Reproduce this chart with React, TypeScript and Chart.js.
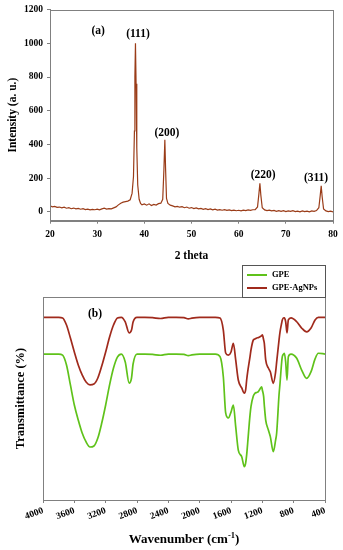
import React, { useEffect, useRef } from "react";
import { Chart, registerables } from "chart.js";

Chart.register(...registerables);

// ---------- (a) XRD data ----------
const xrdTheta = [
  20, 20.5, 21, 21.5, 22, 22.5, 23, 23.5, 24, 24.5, 25, 25.5, 26, 26.5, 27, 27.5, 28, 28.5, 29, 29.5,
  30, 30.5, 31, 31.5, 32, 32.5, 33, 33.5, 34, 34.5, 35, 35.5, 36, 36.5, 37, 37.4, 37.7, 37.9, 38.0, 38.12,
  38.25, 38.4, 38.6, 38.9, 39.2, 39.5, 40, 40.5, 41, 41.5, 42, 42.5, 43, 43.5, 43.9, 44.15, 44.35, 44.5, 44.7, 45,
  45.5, 46, 46.5, 47, 47.5, 48, 48.5, 49, 49.5, 50, 50.5, 51, 51.5, 52, 52.5, 53, 53.5, 54, 54.5, 55,
  55.5, 56, 56.5, 57, 57.5, 58, 58.5, 59, 59.5, 60, 60.5, 61, 61.5, 62, 62.5, 63, 63.5, 64, 64.3, 64.5,
  64.7, 65, 65.5, 66, 66.5, 67, 67.5, 68, 68.5, 69, 69.5, 70, 70.5, 71, 71.5, 72, 72.5, 73, 73.5, 74,
  74.5, 75, 75.5, 76, 76.5, 77, 77.3, 77.5, 77.7, 78, 78.5, 79, 79.5, 80,
];
const xrdIntensity = [
  36, 30, 33, 27, 29, 24, 28, 22, 25, 19, 23, 18, 21, 16, 19, 14, 17, 12, 15, 13,
  16, 12, 18, 22, 17, 20, 18, 24, 30, 42, 52, 58, 61, 64, 72, 110, 210, 480, 800, 1000,
  760, 380, 160, 75, 50, 42, 47, 40, 48, 38, 45, 41, 49, 52, 75, 250, 428, 260, 80, 50,
  40, 36, 30, 33, 28, 31, 25, 29, 22, 26, 20, 24, 18, 21, 15, 19, 14, 18, 12, 16,
  11, 14, 10, 13, 9, 12, 8, 11, 7, 10, 6, 11, 8, 12, 9, 13, 14, 30, 110, 170,
  100, 25, 12, 8, 11, 6, 9, 4, 8, 3, 7, 2, 6, 3, 7, 2, 5, 1, 6, 2,
  5, 1, 6, 3, 8, 25, 100, 155, 90, 18, 6, 2, 5, 0,
];
const xrdXTicks = [20, 30, 40, 50, 60, 70, 80];
const xrdYTicks = [0, 200, 400, 600, 800, 1000, 1200];
const xrdPeakLabels = ["(a)", "(111)", "(200)", "(220)", "(311)"];
const xrdPeakLabelTheta = [30.2, 38.65, 44.8, 65.2, 76.4];
const xrdPeakLabelIntensity = [1075, 1058, 468, 218, 200];

// ---------- (b) FTIR data ----------
const ftirWavenumber = [
  4000, 3800, 3750, 3700, 3650, 3600, 3550, 3500, 3450, 3400, 3350, 3300, 3250, 3200, 3150, 3100, 3050, 3000,
  2950, 2900, 2870, 2850, 2800, 2700, 2600, 2500, 2400, 2300, 2200, 2145, 2100, 2000, 1900, 1800, 1740, 1698,
  1668, 1634, 1600, 1570, 1540, 1507, 1463, 1430, 1413, 1400, 1387, 1357, 1345, 1315, 1294, 1272, 1251, 1230,
  1208, 1200, 1183, 1175, 1157, 1123, 1098, 1060, 1030, 1017, 987, 974, 953, 945, 927, 919, 902, 885,
  868, 834, 761, 698, 634, 578, 527, 485, 400,
];
const ftirGPE = [
  71.9, 71.9, 71.4, 66.5, 56.7, 46.8, 39.4, 33.0, 28.6, 26.1, 26.6, 30.5, 37.9, 46.8, 56.7, 65.0, 70.4, 71.9,
  68.0, 57.6, 60.1, 67.0, 71.9, 71.9, 71.7, 71.3, 71.9, 71.9, 71.7, 71.1, 71.5, 71.9, 71.9, 71.9, 70.6, 60.7,
  42.9, 40.4, 43.3, 46.8, 36.1, 24.6, 21.3, 16.4, 18.2, 22.2, 28.1, 41.9, 46.0, 51.2, 52.6, 53.0, 53.4, 54.7,
  55.8, 54.2, 50.9, 46.8, 39.4, 34.5, 31.2, 23.8, 29.6, 33.0, 51.7, 57.5, 68.0, 70.6, 71.9, 72.3, 68.0, 59.1,
  70.6, 71.9, 69.8, 64.0, 59.9, 63.2, 69.5, 72.3, 71.9,
];
const ftirGPEAgNPs = [
  90.0, 90.0, 89.7, 86.2, 79.8, 72.9, 66.5, 61.6, 58.1, 56.7, 57.1, 60.1, 66.0, 72.9, 80.3, 86.2, 89.7, 90.0,
  87.7, 82.3, 83.7, 87.7, 90.0, 90.0, 89.8, 89.4, 90.0, 90.0, 89.8, 89.2, 89.6, 90.0, 90.0, 90.0, 89.6, 83.7,
  72.4, 71.4, 72.9, 77.2, 69.0, 59.1, 55.2, 52.6, 54.2, 59.1, 63.1, 70.6, 73.9, 78.8, 79.3, 79.8, 80.0, 80.4,
  81.0, 81.3, 78.8, 77.3, 69.0, 65.0, 63.2, 57.5, 63.2, 68.0, 78.8, 82.8, 87.2, 88.7, 89.7, 89.7, 87.8, 82.3,
  88.7, 89.7, 87.8, 84.7, 82.8, 84.7, 88.7, 90.0, 90.0,
];
const ftirXTicks = [4000, 3600, 3200, 2800, 2400, 2000, 1600, 1200, 800, 400];
const ftirSeriesNames = ["GPE", "GPE-AgNPs"];
const ftirPanelLabel = "(b)";
const ftirPanelLabelX = 3336;
const ftirPanelLabelY = 91.6;

const SERIF = "'Liberation Serif', 'Times New Roman', serif";
const AXIS_GRAY = "#808080";
const XRD_COLOR = "#9a3c18";
const GPE_COLOR = "#5fc21a";
const AGNP_COLOR = "#a02a1c";

const plainTick = (v: any) => String(v);

const boxPlugin = {
  id: "boxPlugin",
  afterDraw(chart: any) {
    const { ctx, chartArea } = chart;
    ctx.save();
    ctx.strokeStyle = AXIS_GRAY;
    ctx.lineWidth = 1;
    ctx.strokeRect(
      Math.round(chartArea.left) + 0.5,
      Math.round(chartArea.top) + 0.5,
      Math.round(chartArea.right - chartArea.left),
      Math.round(chartArea.bottom - chartArea.top)
    );
    ctx.restore();
  },
};

function XrdChart() {
  const ref = useRef<HTMLCanvasElement>(null);
  useEffect(() => {
    const labelPlugin = {
      id: "xrdLabels",
      afterDatasetsDraw(chart: any) {
        const { ctx, scales } = chart;
        ctx.save();
        ctx.fillStyle = "#000";
        ctx.font = `bold 11.5px ${SERIF}`;
        ctx.textAlign = "center";
        ctx.textBaseline = "middle";
        xrdPeakLabels.forEach((t, i) => {
          ctx.fillText(
            t,
            scales.x.getPixelForValue(xrdPeakLabelTheta[i]),
            scales.y.getPixelForValue(xrdPeakLabelIntensity[i])
          );
        });
        ctx.restore();
      },
    };
    const chart = new Chart(ref.current!, {
      type: "line",
      data: {
        datasets: [
          {
            data: xrdTheta.map((t, i) => ({ x: t, y: xrdIntensity[i] })),
            borderColor: XRD_COLOR,
            borderWidth: 1.2,
            pointRadius: 0,
            tension: 0,
            fill: false,
          },
        ],
      },
      options: {
        responsive: false,
        animation: false,
        layout: { padding: { left: 0, top: 9.6, right: 10, bottom: 0 } },
        plugins: { legend: { display: false }, tooltip: { enabled: false } },
        scales: {
          x: {
            type: "linear",
            min: 20,
            max: 80,
            afterBuildTicks: (s: any) => {
              s.ticks = xrdXTicks.map((v) => ({ value: v }));
            },
            afterFit: (s: any) => {
              s.height = 42.3;
              s.paddingLeft = 0;
              s.paddingRight = 0;
            },
            ticks: {
              callback: plainTick,
              color: "#000",
              font: { family: SERIF, size: 9.5, weight: "bold" },
              padding: 5,
              maxRotation: 0,
              minRotation: 0,
              autoSkip: false,
            },
            grid: { display: true, drawOnChartArea: false, drawTicks: true, tickLength: 3, color: AXIS_GRAY },
            border: { display: true, color: AXIS_GRAY },
            title: {
              display: true,
              text: "2 theta",
              color: "#000",
              font: { family: SERIF, size: 11.5, weight: "bold" },
              padding: { top: 0, bottom: 0 },
            },
          },
          y: {
            type: "linear",
            min: -52,
            max: 1200,
            afterBuildTicks: (s: any) => {
              s.ticks = xrdYTicks.map((v) => ({ value: v }));
            },
            afterFit: (s: any) => {
              s.width = 50;
              s.paddingTop = 0;
              s.paddingBottom = 0;
            },
            ticks: {
              callback: plainTick,
              color: "#000",
              font: { family: SERIF, size: 9.5, weight: "bold" },
              padding: 4,
            },
            grid: { display: true, drawOnChartArea: false, drawTicks: true, tickLength: 3, color: AXIS_GRAY },
            border: { display: true, color: AXIS_GRAY },
            title: {
              display: true,
              text: "Intensity (a. u.)",
              color: "#000",
              font: { family: SERIF, size: 11.5, weight: "bold" },
              padding: { top: 6, bottom: 0 },
            },
          },
        },
      },
      plugins: [boxPlugin, labelPlugin],
    } as any);
    return () => chart.destroy();
  }, []);
  return (
    <canvas
      ref={ref}
      width={343}
      height={263}
      style={{ position: "absolute", left: 0, top: 0, width: 343, height: 263 }}
    />
  );
}

function FtirChart() {
  const ref = useRef<HTMLCanvasElement>(null);
  useEffect(() => {
    const extrasPlugin = {
      id: "ftirExtras",
      afterDraw(chart: any) {
        const { ctx, chartArea, scales } = chart;
        ctx.save();
        // panel label
        ctx.fillStyle = "#000";
        ctx.font = `bold 11.5px ${SERIF}`;
        ctx.textAlign = "center";
        ctx.textBaseline = "middle";
        ctx.fillText(
          ftirPanelLabel,
          scales.x.getPixelForValue(ftirPanelLabelX),
          scales.y.getPixelForValue(ftirPanelLabelY)
        );
        // x title with superscript
        const main = "Wavenumber (cm";
        const sup = "-1";
        const end = ")";
        const mainFont = `bold 13px ${SERIF}`;
        const supFont = `bold 8.5px ${SERIF}`;
        ctx.font = mainFont;
        const wMain = ctx.measureText(main).width;
        const wEnd = ctx.measureText(end).width;
        ctx.font = supFont;
        const wSup = ctx.measureText(sup).width;
        const total = wMain + wSup + wEnd;
        const cx = (chartArea.left + chartArea.right) / 2;
        const ty = chartArea.bottom + 43;
        let x = cx - total / 2;
        ctx.textAlign = "left";
        ctx.textBaseline = "alphabetic";
        ctx.font = mainFont;
        ctx.fillText(main, x, ty);
        x += wMain;
        ctx.font = supFont;
        ctx.fillText(sup, x, ty - 5);
        x += wSup;
        ctx.font = mainFont;
        ctx.fillText(end, x, ty);
        // legend
        const bx = chartArea.right - 83;
        const by = 2;
        const bw = 83;
        const bh = chartArea.top - by;
        ctx.fillStyle = "#fff";
        ctx.fillRect(bx, by, bw, bh);
        ctx.strokeStyle = "#555";
        ctx.lineWidth = 1;
        ctx.strokeRect(Math.round(bx) + 0.5, by + 0.5, bw, Math.round(bh));
        const colors = [GPE_COLOR, AGNP_COLOR];
        ctx.font = `bold 8.5px ${SERIF}`;
        ctx.textBaseline = "middle";
        ftirSeriesNames.forEach((name, i) => {
          const ly = by + 10 + i * 13;
          ctx.strokeStyle = colors[i];
          ctx.lineWidth = 2;
          ctx.beginPath();
          ctx.moveTo(bx + 5, ly);
          ctx.lineTo(bx + 25, ly);
          ctx.stroke();
          ctx.fillStyle = "#000";
          ctx.fillText(name, bx + 30, ly);
        });
        ctx.restore();
      },
    };
    const chart = new Chart(ref.current!, {
      type: "line",
      data: {
        datasets: [
          {
            label: ftirSeriesNames[0],
            data: ftirWavenumber.map((w, i) => ({ x: w, y: ftirGPE[i] })),
            borderColor: GPE_COLOR,
            borderWidth: 1.7,
            pointRadius: 0,
            cubicInterpolationMode: "monotone",
            fill: false,
          },
          {
            label: ftirSeriesNames[1],
            data: ftirWavenumber.map((w, i) => ({ x: w, y: ftirGPEAgNPs[i] })),
            borderColor: AGNP_COLOR,
            borderWidth: 1.7,
            pointRadius: 0,
            cubicInterpolationMode: "monotone",
            fill: false,
          },
        ],
      },
      options: {
        responsive: false,
        animation: false,
        layout: { padding: { left: 0, top: 34, right: 18, bottom: 0 } },
        plugins: { legend: { display: false }, tooltip: { enabled: false } },
        scales: {
          x: {
            type: "linear",
            reverse: true,
            min: 400,
            max: 4000,
            afterBuildTicks: (s: any) => {
              s.ticks = ftirXTicks.map((v) => ({ value: v }));
            },
            afterFit: (s: any) => {
              s.height = 50;
              s.paddingLeft = 0;
              s.paddingRight = 0;
            },
            ticks: {
              callback: plainTick,
              color: "#000",
              font: { family: SERIF, size: 9.5, weight: "bold" },
              padding: 2,
              maxRotation: 20,
              minRotation: 20,
              autoSkip: false,
            },
            grid: { display: true, drawOnChartArea: false, drawTicks: true, tickLength: 3, color: AXIS_GRAY },
            border: { display: true, color: AXIS_GRAY },
          },
          y: {
            type: "linear",
            min: 0,
            max: 100,
            afterFit: (s: any) => {
              s.width = 43;
              s.paddingTop = 0;
              s.paddingBottom = 0;
            },
            ticks: { display: false },
            grid: { display: false, drawTicks: false },
            border: { display: true, color: AXIS_GRAY },
            title: {
              display: true,
              text: "Transmittance (%)",
              color: "#000",
              font: { family: SERIF, size: 12.5, weight: "bold" },
              padding: { top: 13.5, bottom: 0 },
            },
          },
        },
      },
      plugins: [boxPlugin, extrasPlugin],
    } as any);
    return () => chart.destroy();
  }, []);
  return (
    <canvas
      ref={ref}
      width={343}
      height={287}
      style={{ position: "absolute", left: 0, top: 263, width: 343, height: 287 }}
    />
  );
}

export default function App() {
  return (
    <div
      style={{
        position: "absolute",
        left: 0,
        top: 0,
        width: 343,
        height: 550,
        background: "#fff",
        overflow: "hidden",
      }}
    >
      <XrdChart />
      <FtirChart />
    </div>
  );
}
